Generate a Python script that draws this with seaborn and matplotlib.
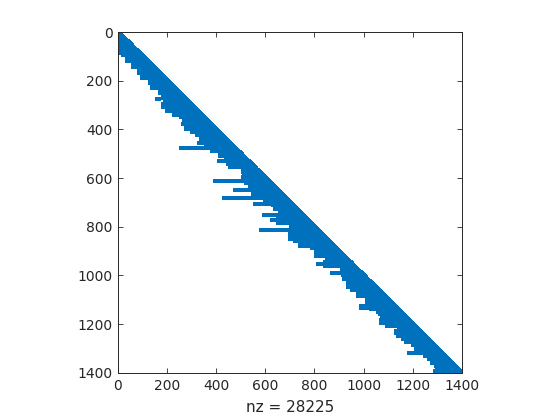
import numpy as np
import pandas as pd
import matplotlib
matplotlib.use("Agg")
import matplotlib.pyplot as plt
import seaborn as sns

# ---------------- data ----------------
n = 1400
# staircase envelope of the dense band: from step_rows[k] on, rows start at step_cols[k]
step_rows = [0, 25, 66, 80, 95, 122, 145, 170, 190, 210, 230, 250, 271, 283, 296, 310,
             325, 350, 380, 400, 412, 425, 440, 460, 490, 510, 530, 544, 555, 575, 595,
             605, 620, 640, 660, 675, 690, 710, 730, 745, 760, 785, 800, 825, 840, 860,
             880, 890, 901, 920, 943, 962, 975, 1000, 1017, 1030, 1047, 1060, 1085, 1100,
             1110, 1140, 1150, 1160, 1170, 1182, 1195, 1220, 1228, 1238, 1248, 1264, 1275,
             1285, 1301, 1320, 1334, 1345, 1361, 1372, 1385, 1400]
step_cols = [0, 4, 8, 20, 35, 60, 87, 99, 130, 137, 171, 185, 204, 191, 185, 200,
             256, 268, 275, 300, 323, 340, 360, 381, 415, 440, 450, 456, 510, 515, 509,
             520, 537, 577, 550, 600, 631, 638, 669, 658, 650, 712, 705, 701, 720, 742,
             790, 823, 807, 851, 845, 912, 915, 922, 969, 936, 955, 977, 1027, 1013,
             1031, 1057, 1068, 1100, 1076, 1070, 1144, 1144, 1134, 1140, 1161, 1172, 1200,
             1236, 1213, 1250, 1266, 1280, 1294, 1300, 1330, 1358]
# single long rows reaching further left, each running to the diagonal
spike_rows = [380, 454, 475, 532, 551, 612, 649, 680, 705, 753, 774, 813, 833, 850,
              874, 915, 952, 990, 1073, 1125, 1132, 1207, 1318, 1392]
spike_cols = [263, 331, 256, 411, 464, 395, 476, 431, 558, 594, 627, 583, 704, 700,
              749, 814, 814, 871, 980, 990, 989, 1096, 1184, 1290]
# short isolated pieces
short_rows = [40, 55, 86, 240, 275, 339]
short_c0 = [1, 1, 4, 175, 157, 228]
short_c1 = [10, 14, 6, 178, 167, 248]

tick_values = [0, 200, 400, 600, 800, 1000, 1200, 1400]
nz_text = "nz = 28225"
spy_color = "#0072BD"

# ---------------- build nonzero positions ----------------
rows_all, cols_all = [], []
step_r = np.array(step_rows)
step_c = np.array(step_cols)
for r in range(1, n + 1):
    k = np.searchsorted(step_r, r, side="right") - 1
    c0 = max(1, min(int(step_c[k]), r))
    cs = np.arange(c0, r + 1)
    rows_all.append(np.full(cs.size, r))
    cols_all.append(cs)
for r, c in zip(spike_rows, spike_cols):
    cs = np.arange(max(1, c), r + 1)
    rows_all.append(np.full(cs.size, r))
    cols_all.append(cs)
for r, a, b in zip(short_rows, short_c0, short_c1):
    cs = np.arange(max(1, a), b + 1)
    rows_all.append(np.full(cs.size, r))
    cols_all.append(cs)

df = pd.DataFrame({"row": np.concatenate(rows_all), "col": np.concatenate(cols_all)})

# ---------------- plot ----------------
plt.rcParams["font.family"] = ["DejaVu Sans"]
fig = plt.figure(figsize=(5.6, 4.2), dpi=100)
ax = fig.add_axes([118 / 560, 47 / 420, 344 / 560, 341 / 420])

sns.scatterplot(data=df, x="col", y="row", marker="s", s=5.5, linewidth=0,
                color=spy_color, ax=ax, legend=False)

ax.set_xlim(0, n + 1)
ax.set_ylim(n + 1, 0)
ax.set_xticks(tick_values)
ax.set_yticks(tick_values)
ax.set_xticklabels([str(t) for t in tick_values])
ax.set_yticklabels([str(t) for t in tick_values])
ax.set_xlabel(nz_text, fontsize=11, color="#262626", labelpad=5)
ax.set_ylabel("")
ax.tick_params(direction="in", length=3.5, width=0.6, colors="#262626",
               labelsize=10, top=True, right=True, pad=4)
for sp in ax.spines.values():
    sp.set_color("#262626")
    sp.set_linewidth(0.7)

fig.savefig("out.png", dpi=100)
